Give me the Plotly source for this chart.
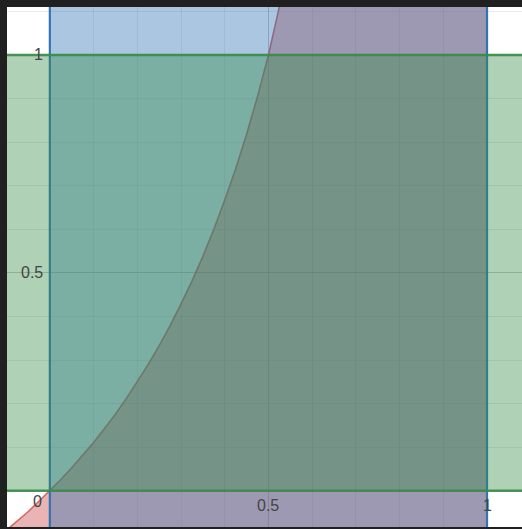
import plotly.graph_objects as go

# boundary curve (red region lies below/right of it)
curve_x = [-0.100, -0.075, -0.050, -0.025, 0.000, 0.025, 0.050, 0.075, 0.100,
           0.125, 0.150, 0.175, 0.200, 0.225, 0.250, 0.275, 0.300, 0.325,
           0.350, 0.375, 0.400, 0.425, 0.450, 0.475, 0.500, 0.525, 0.550]
curve_y = [-0.091, -0.070, -0.048, -0.024, 0.000, 0.026, 0.053, 0.081, 0.111,
           0.143, 0.176, 0.212, 0.250, 0.290, 0.333, 0.379, 0.429, 0.481,
           0.538, 0.600, 0.667, 0.739, 0.818, 0.905, 1.000, 1.105, 1.222]

# strips
blue_x = [0, 1]      # vertical strip 0 <= x <= 1
green_y = [0, 1]     # horizontal strip 0 <= y <= 1

# far-away extents used to close the shaded regions
lo, hi = -0.5, 1.5

x_ticks = [0.5, 1]
x_labels = ["0.5", "1"]
y_ticks = [0.5, 1]
y_labels = ["0.5", "1"]

RED = "199,68,64"
BLUE = "45,112,179"
GREEN = "56,140,70"

fig = go.Figure()

# red region
fig.add_trace(go.Scatter(
    x=curve_x + [blue_x[1], blue_x[1], curve_x[0]],
    y=curve_y + [hi, lo, lo],
    fill="toself", fillcolor=f"rgba({RED},0.4)",
    mode="lines", line=dict(width=0), hoverinfo="skip"))
fig.add_trace(go.Scatter(
    x=curve_x, y=curve_y, mode="lines",
    line=dict(color=f"rgba({RED},0.75)", width=1.6), hoverinfo="skip"))

# blue strip
fig.add_trace(go.Scatter(
    x=[blue_x[0], blue_x[1], blue_x[1], blue_x[0]],
    y=[lo, lo, hi, hi],
    fill="toself", fillcolor=f"rgba({BLUE},0.4)",
    mode="lines", line=dict(width=0), hoverinfo="skip"))
fig.add_trace(go.Scatter(
    x=[blue_x[0], blue_x[0], None, blue_x[1], blue_x[1]],
    y=[lo, hi, None, lo, hi], mode="lines",
    line=dict(color=f"rgba({BLUE},0.95)", width=2.2), hoverinfo="skip"))

# green strip
fig.add_trace(go.Scatter(
    x=[lo, hi, hi, lo],
    y=[green_y[0], green_y[0], green_y[1], green_y[1]],
    fill="toself", fillcolor=f"rgba({GREEN},0.4)",
    mode="lines", line=dict(width=0), hoverinfo="skip"))
fig.add_trace(go.Scatter(
    x=[lo, hi, None, lo, hi],
    y=[green_y[0], green_y[0], None, green_y[1], green_y[1]], mode="lines",
    line=dict(color=f"rgba({GREEN},0.9)", width=2.4), hoverinfo="skip"))

label_font = dict(family="Liberation Sans, Arial, sans-serif", size=16, color="#444")
annotations = [dict(x=0, y=0, text="0", showarrow=False, xanchor="right",
                    xshift=-6, yshift=-11, font=label_font)]
for v, t in zip(x_ticks, x_labels):
    annotations.append(dict(x=v, y=0, text=t, showarrow=False, yshift=-15,
                            font=label_font))
for v, t in zip(y_ticks, y_labels):
    annotations.append(dict(x=0, y=v, text=t, showarrow=False, xanchor="right",
                            xshift=-5, font=label_font))

grid_major = "rgba(0,0,0,0.22)"
grid_minor = "rgba(0,0,0,0.08)"

fig.update_layout(
    width=522, height=529,
    margin=dict(l=7, r=0, t=7, b=2),
    paper_bgcolor="#202020",
    plot_bgcolor="white",
    showlegend=False,
    annotations=annotations,
    xaxis=dict(range=[-0.098, 1.080], tick0=0, dtick=0.5,
               showgrid=True, gridcolor=grid_major, gridwidth=1,
               minor=dict(tick0=0, dtick=0.1, showgrid=True, gridcolor=grid_minor),
               zeroline=False, showticklabels=False, ticks="", fixedrange=True),
    yaxis=dict(range=[-0.083, 1.110], tick0=0, dtick=0.5,
               showgrid=True, gridcolor=grid_major, gridwidth=1,
               minor=dict(tick0=0, dtick=0.1, showgrid=True, gridcolor=grid_minor),
               zeroline=False, showticklabels=False, ticks="", fixedrange=True),
)

# page has a default body margin; drop it so the figure sits at the window corner
fig.write_html("out.html", config={"displayModeBar": False},
               post_script="document.body.style.margin='0';")
